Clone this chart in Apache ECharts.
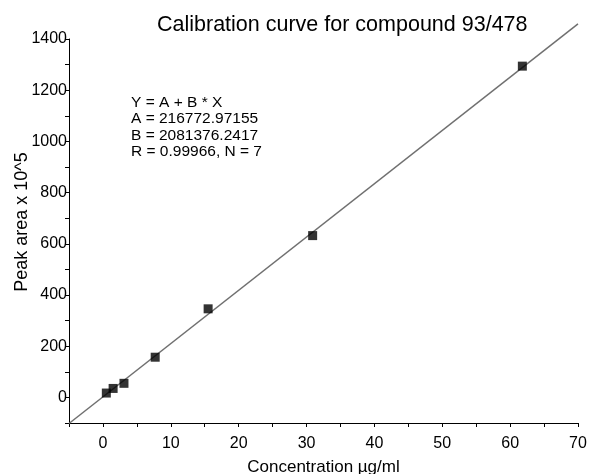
<!DOCTYPE html>
<html>
<head>
  <meta charset="UTF-8">
  <title>Calibration curve</title>
  <script src="https://cdn.jsdelivr.net/npm/echarts@6/dist/echarts.min.js"></script>
  <style>
    html, body { margin: 0; padding: 0; background: #fff; }
    #chart { width: 592px; height: 474px; }
  </style>
</head>
<body>
  <div id="chart"></div>
  <script>
    // measured points (concentration, peak area x 10^5)
    const concentrations = [0.5, 1.5, 3.1, 7.7, 15.5, 30.9, 61.8];
    const peakAreas = [17, 35, 55, 157, 346, 632, 1294];
    // fitted line, read at the two ends of the x axis
    const fitX = [-5, 70];
    const fitY = [-102, 1459];
    const fitText = [
      'Y = A + B * X',
      'A = 216772.97155',
      'B = 2081376.2417',
      'R = 0.99966, N = 7'
    ];

    const font = 'Arial, "Liberation Sans", sans-serif';
    const chart = echarts.init(document.getElementById('chart'));

    chart.setOption({
      backgroundColor: '#fff',
      animation: false,
      title: {
        text: 'Calibration curve for compound 93/478',
        left: 152,
        top: 9,
        textStyle: { fontFamily: font, fontSize: 21.5, fontWeight: 'normal', color: '#000' }
      },
      // keep the plot box fixed, labels may sit outside it
      grid: { left: 69, right: 14, top: 39, bottom: 51, containLabel: false, outerBoundsMode: 'none' },
      xAxis: {
        type: 'value',
        min: -5,
        max: 70,
        interval: 5,
        name: 'Concentration µg/ml',
        nameLocation: 'middle',
        nameGap: 36,
        nameMoveOverlap: false,
        nameTextStyle: { fontFamily: font, fontSize: 17, color: '#000' },
        axisLine: { onZero: false, lineStyle: { color: '#000', width: 1 } },
        axisTick: { length: 4, lineStyle: { color: '#000' } },
        axisLabel: {
          margin: 13,
          fontFamily: font,
          fontSize: 16,
          color: '#000',
          formatter: v => (v % 10 === 0 ? String(v) : '')
        },
        splitLine: { show: false }
      },
      yAxis: {
        type: 'value',
        min: -100,
        max: 1400,
        interval: 100,
        name: 'Peak area x 10^5',
        nameLocation: 'middle',
        nameGap: 38,
        nameMoveOverlap: false,
        nameTextStyle: { fontFamily: font, fontSize: 18, color: '#000', padding: [0, 0, 0, 18] },
        axisLine: { show: true, onZero: false, lineStyle: { color: '#000', width: 1 } },
        axisTick: { show: true, length: 4, lineStyle: { color: '#000' } },
        axisLabel: {
          margin: 2,
          fontFamily: font,
          fontSize: 16,
          color: '#000',
          formatter: v => (v % 200 === 0 ? String(v) : '')
        },
        splitLine: { show: false }
      },
      graphic: [{
        type: 'text',
        left: 131,
        top: 94,
        style: {
          text: fitText.join('\n'),
          font: '15.5px ' + font,
          lineHeight: 16.5,
          fill: '#000'
        }
      }],
      series: [
        {
          type: 'line',
          data: fitX.map((x, i) => [x, fitY[i]]),
          clip: false,
          symbol: 'none',
          lineStyle: { color: '#707070', width: 1.5 },
          z: 1
        },
        {
          type: 'scatter',
          data: concentrations.map((x, i) => [x, peakAreas[i]]),
          symbol: 'rect',
          symbolSize: 9,
          itemStyle: { color: '#000' },
          z: 2
        }
      ]
    });
  </script>
</body>
</html>
